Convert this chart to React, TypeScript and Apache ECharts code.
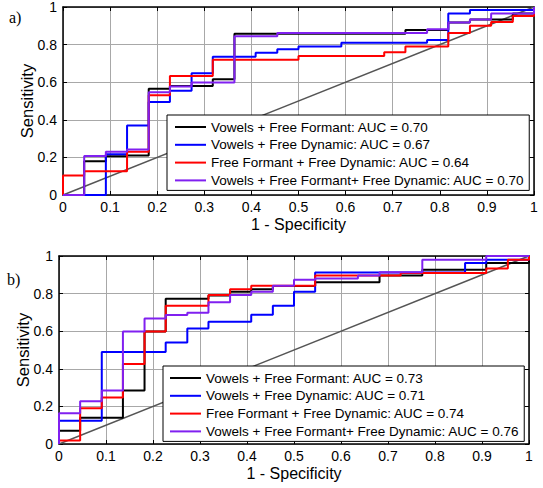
import React, { useEffect, useRef } from "react";
import * as echarts from "echarts";

// Shared false-positive-rate positions of the staircase steps
const FPR = [0, 0.045, 0.091, 0.136, 0.182, 0.227, 0.273, 0.318, 0.364, 0.409, 0.455, 0.5, 0.545, 0.591, 0.636, 0.682, 0.727, 0.773, 0.818, 0.864, 0.909, 0.955, 1];

// Panel a) sensitivity after the jump at each FPR position
const A_VOW_FORM = [0, 0.18, 0.206, 0.21, 0.565, 0.58, 0.58, 0.616, 0.858, 0.858, 0.858, 0.858, 0.858, 0.858, 0.858, 0.858, 0.878, 0.878, 0.918, 0.934, 0.934, 0.966, 1];
const A_VOW_DYN = [0, 0, 0.217, 0.37, 0.495, 0.554, 0.647, 0.735, 0.735, 0.757, 0.775, 0.79, 0.79, 0.81, 0.81, 0.81, 0.81, 0.824, 0.966, 0.984, 0.984, 0.984, 1];
const A_FORM_DYN = [0.104, 0.126, 0.126, 0.23, 0.53, 0.633, 0.633, 0.72, 0.72, 0.72, 0.72, 0.74, 0.74, 0.74, 0.74, 0.759, 0.79, 0.79, 0.862, 0.9, 0.92, 0.952, 1];
const A_ALL = [0, 0.208, 0.23, 0.242, 0.547, 0.577, 0.598, 0.598, 0.844, 0.844, 0.862, 0.862, 0.862, 0.862, 0.862, 0.862, 0.862, 0.881, 0.918, 0.934, 0.966, 0.966, 1];

// Panel b)
const B_VOW_FORM = [0.07, 0.14, 0.14, 0.285, 0.598, 0.773, 0.773, 0.79, 0.81, 0.823, 0.84, 0.84, 0.86, 0.86, 0.86, 0.896, 0.896, 0.927, 0.927, 0.927, 0.963, 0.963, 1];
const B_VOW_DYN = [0.124, 0.124, 0.49, 0.49, 0.49, 0.54, 0.614, 0.65, 0.65, 0.687, 0.736, 0.81, 0.912, 0.912, 0.912, 0.912, 0.912, 0.912, 0.912, 0.963, 0.98, 0.98, 1];
const B_FORM_DYN = [0.018, 0.19, 0.248, 0.425, 0.598, 0.736, 0.736, 0.793, 0.823, 0.842, 0.842, 0.842, 0.896, 0.896, 0.896, 0.896, 0.91, 0.91, 0.91, 0.91, 0.934, 0.98, 1];
const B_ALL = [0.163, 0.228, 0.285, 0.598, 0.667, 0.686, 0.698, 0.754, 0.793, 0.81, 0.842, 0.874, 0.88, 0.88, 0.896, 0.913, 0.913, 0.98, 0.98, 0.98, 1, 1, 1];

const NAMES_A = [
  "Vowels + Free Formant: AUC = 0.70",
  "Vowels + Free Dynamic: AUC = 0.67",
  "Free Formant + Free Dynamic: AUC = 0.64",
  "Vowels + Free Formant+ Free Dynamic: AUC = 0.70",
];
const NAMES_B = [
  "Vowels + Free Formant: AUC = 0.73",
  "Vowels + Free Dynamic: AUC = 0.71",
  "Free Formant + Free Dynamic: AUC = 0.74",
  "Vowels + Free Formant+ Free Dynamic: AUC = 0.76",
];
const COLORS = ["#000000", "#0000ff", "#ff0000", "#8020f0"];
const CHANCE = [[0, 0], [1, 1]];

const FONT = "'Liberation Sans', Arial, sans-serif";

function steps(tpr: number[]): number[][] {
  const pts: number[][] = [[0, 0]];
  let prev = 0;
  for (let k = 0; k < FPR.length; k++) {
    pts.push([FPR[k], prev]);
    pts.push([FPR[k], tpr[k]]);
    prev = tpr[k];
  }
  return pts;
}

function axesFor(gi: number) {
  const tick = { show: true, inside: true, length: 4, lineStyle: { color: "#000", width: 1 } };
  const line = { show: true, onZero: false, lineStyle: { color: "#000", width: 1.5 } };
  const x = [
    {
      gridIndex: gi, type: "value", min: 0, max: 1, interval: 0.1, position: "bottom",
      axisLine: line, axisTick: tick,
      axisLabel: { color: "#000", fontSize: 14, fontFamily: FONT, margin: 5 },
      splitLine: { show: true, lineStyle: { color: "#a8a8a8", width: 1 } },
      name: "1 - Specificity", nameLocation: "middle", nameGap: 21,
      nameTextStyle: { color: "#000", fontSize: 16, fontFamily: FONT },
    },
    {
      gridIndex: gi, type: "value", min: 0, max: 1, interval: 0.1, position: "top",
      axisLine: line, axisTick: tick, axisLabel: { show: false }, splitLine: { show: false },
    },
  ];
  const y = [
    {
      gridIndex: gi, type: "value", min: 0, max: 1, interval: 0.2, position: "left",
      axisLine: line, axisTick: tick,
      axisLabel: { color: "#000", fontSize: 14, fontFamily: FONT, margin: 6 },
      splitLine: { show: true, lineStyle: { color: "#a8a8a8", width: 1 } },
      name: "Sensitivity", nameLocation: "middle", nameGap: 28, nameMoveOverlap: false,
      nameTextStyle: { color: "#000", fontSize: 16.5, fontFamily: FONT },
    },
    {
      gridIndex: gi, type: "value", min: 0, max: 1, interval: 0.2, position: "right",
      axisLine: line, axisTick: tick, axisLabel: { show: false }, splitLine: { show: false },
    },
  ];
  return { x, y };
}

function seriesFor(gi: number, names: string[], sets: number[][]) {
  const out: any[] = [
    {
      type: "line", name: "chance" + gi, xAxisIndex: gi * 2, yAxisIndex: gi * 2,
      data: CHANCE, symbol: "none", lineStyle: { color: "#555555", width: 1.5 }, silent: true,
    },
  ];
  sets.forEach((tpr, i) => {
    out.push({
      type: "line", name: names[i], xAxisIndex: gi * 2, yAxisIndex: gi * 2,
      data: steps(tpr), symbol: "none", showSymbol: false,
      itemStyle: { color: COLORS[i] },
      lineStyle: { color: COLORS[i], width: 2 },
    });
  });
  return out;
}

function legendFor(names: string[], left: number, top: number, padL: number) {
  return {
    data: names.map((n) => ({ name: n, icon: "rect" })),
    orient: "vertical", left, top,
    padding: [5, 5, 3, padL], itemGap: 3.8, itemWidth: 31, itemHeight: 2,
    backgroundColor: "#fff", borderColor: "#000", borderWidth: 1, borderRadius: 0,
    selectedMode: false,
    textStyle: { color: "#000", fontSize: 13.5, fontFamily: FONT, lineHeight: 14 },
  };
}

export default function App() {
  const ref = useRef<HTMLDivElement>(null);
  useEffect(() => {
    if (!ref.current) return;
    const chart = echarts.init(ref.current, undefined, { renderer: "svg" });
    const a = axesFor(0);
    const b = axesFor(1);
    chart.setOption({
      animation: false,
      backgroundColor: "#fff",
      grid: [
        { left: 63, top: 7, width: 471, height: 188 },
        { left: 59, top: 256, width: 470, height: 188 },
      ],
      xAxis: [...a.x, ...b.x],
      yAxis: [...a.y, ...b.y],
      legend: [legendFor(NAMES_A, 167, 115, 8), legendFor(NAMES_B, 163, 366, 7)],
      series: [
        ...seriesFor(0, NAMES_A, [A_VOW_FORM, A_VOW_DYN, A_FORM_DYN, A_ALL]),
        ...seriesFor(1, NAMES_B, [B_VOW_FORM, B_VOW_DYN, B_FORM_DYN, B_ALL]),
      ],
      graphic: [
        { type: "text", left: 9, top: 9, style: { text: "a)", fontSize: 16, fontFamily: "'Liberation Serif', 'Times New Roman', serif", fill: "#000" } },
        { type: "text", left: 7, top: 271, style: { text: "b)", fontSize: 16, fontFamily: "'Liberation Serif', 'Times New Roman', serif", fill: "#000" } },
      ],
    });
    return () => chart.dispose();
  }, []);
  return <div ref={ref} style={{ position: "fixed", left: 0, top: 0, width: 543, height: 488 }} />;
}
